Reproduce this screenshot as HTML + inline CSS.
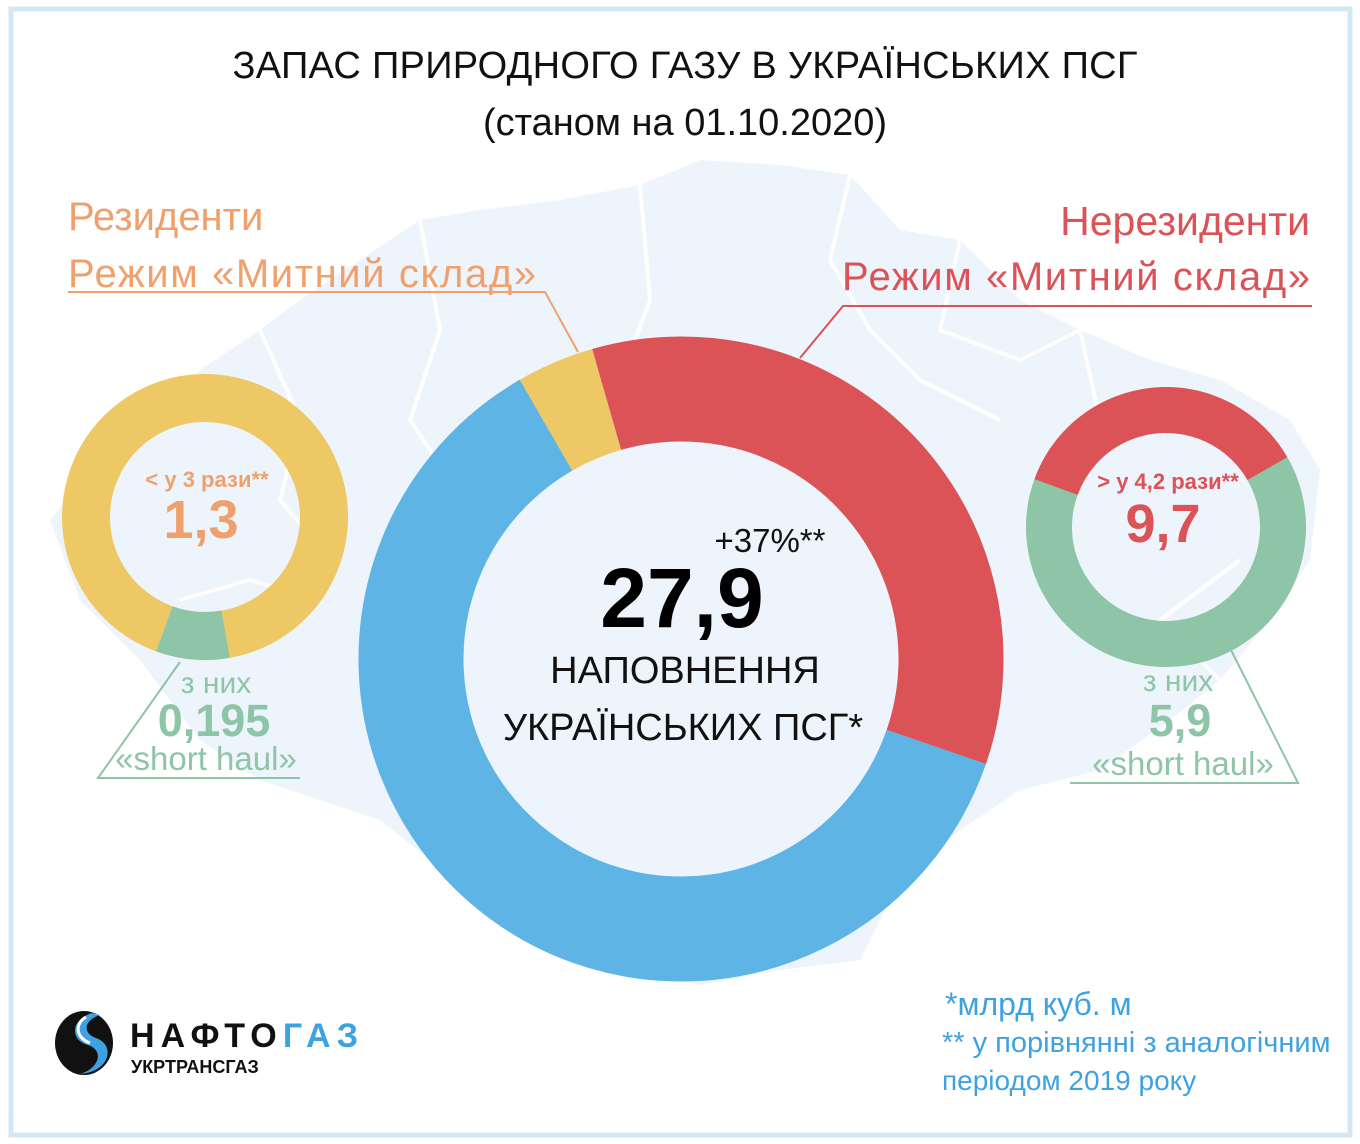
<!DOCTYPE html>
<html><head><meta charset="utf-8"><style>
body{margin:0;width:1360px;height:1144px;background:#fff;overflow:hidden}
svg{display:block}
text{font-family:"Liberation Sans","DejaVu Sans",sans-serif}
</style></head><body>
<svg width="1360" height="1144" viewBox="0 0 1360 1144">
<rect x="11" y="9" width="1339" height="1126" fill="#fff" stroke="#d2e8f6" stroke-width="5"/>
<path d="M50 520 L90 470 L150 430 L200 370 L260 330 L300 300 L360 260 L420 220 L480 210 L560 200 L640 185 L700 160 L780 165 L850 175 L900 230 L960 240 L1020 300 L1080 330 L1150 360 L1220 380 L1290 420 L1320 470 L1310 560 L1270 620 L1220 680 L1170 720 L1100 770 L1020 790 L960 830 L900 880 L860 960 L780 970 L700 985 L600 960 L520 900 L430 860 L380 820 L320 800 L260 780 L200 740 L140 660 L80 600 Z" fill="#edf4fb"/>
<g fill="none" stroke="#fff" stroke-width="4" opacity="0.9">
<path d="M260 330 L300 420 L280 500 L330 560"/><path d="M420 220 L440 330 L410 420 L450 480"/><path d="M640 185 L650 300 L620 380"/><path d="M850 175 L830 260 L870 330 L920 380 L1000 420"/><path d="M960 240 L940 330 L1020 360 L1080 330"/><path d="M1080 330 L1100 420 L1040 470"/><path d="M180 600 L250 580 L320 600"/><path d="M1220 680 L1160 620 L1240 560"/></g>
<g transform="translate(681,659)" fill="none" stroke-width="105">
<circle r="270" stroke="#5eb4e4" stroke-dasharray="1041.4 2000" transform="rotate(19)"/>
<circle r="270" stroke="#db5257" stroke-dasharray="589 2000" transform="rotate(-106)"/>
<circle r="270" stroke="#efc866" stroke-dasharray="66 2000" transform="rotate(-120)"/>
</g>
<g transform="translate(205,517)" fill="none" stroke-width="48">
<circle r="119" stroke="#efc866" stroke-dasharray="685.4 2000" transform="rotate(110)"/>
<circle r="119" stroke="#8dc5a6" stroke-dasharray="62.3 2000" transform="rotate(80)"/>
</g>
<g transform="translate(1166,527)" fill="none" stroke-width="46">
<circle r="117" stroke="#8dc5a6" stroke-dasharray="469.7 2000" transform="rotate(-30)"/>
<circle r="117" stroke="#db5257" stroke-dasharray="265.5 2000" transform="rotate(-160)"/>
</g>
<polyline points="68,292 545,292 578,352" fill="none" stroke="#f0a06c" stroke-width="2"/>
<polyline points="1312,306 843,306 800,358" fill="none" stroke="#db5257" stroke-width="2"/>
<polyline points="180,662 98,778 300,778" fill="none" stroke="#8dc5a6" stroke-width="2"/>
<polyline points="1230,648 1298,783 1070,783" fill="none" stroke="#8dc5a6" stroke-width="2"/>
<text x="685" y="78" font-size="38" text-anchor="middle" fill="#111" textLength="905">ЗАПАС ПРИРОДНОГО ГАЗУ В УКРАЇНСЬКИХ ПСГ</text>
<text x="685" y="135" font-size="38" text-anchor="middle" fill="#111">(станом на 01.10.2020)</text>
<text x="68" y="230" font-size="40" fill="#f0a06c">Резиденти</text>
<text x="68" y="287" font-size="40" fill="#f0a06c" textLength="468">Режим «Митний склад»</text>
<text x="1310" y="235" font-size="41" fill="#db5257" text-anchor="end">Нерезиденти</text>
<text x="1310" y="290" font-size="40" fill="#db5257" text-anchor="end" textLength="468">Режим «Митний склад»</text>
<text x="207" y="487" font-size="22" font-weight="bold" fill="#f0a06c" text-anchor="middle">&lt; у 3 рази**</text>
<text x="201" y="538" font-size="54" font-weight="bold" fill="#f0a06c" text-anchor="middle">1,3</text>
<text x="216" y="693" font-size="30" fill="#8dc5a6" text-anchor="middle">з них</text>
<text x="214" y="736" font-size="45" font-weight="bold" fill="#8dc5a6" text-anchor="middle">0,195</text>
<text x="206" y="770" font-size="33" fill="#8dc5a6" text-anchor="middle">«short haul»</text>
<text x="1168" y="489" font-size="22" font-weight="bold" fill="#db5257" text-anchor="middle">&gt; у 4,2 рази**</text>
<text x="1163" y="542" font-size="54" font-weight="bold" fill="#db5257" text-anchor="middle">9,7</text>
<text x="1178" y="691" font-size="30" fill="#8dc5a6" text-anchor="middle">з них</text>
<text x="1180" y="736" font-size="45" font-weight="bold" fill="#8dc5a6" text-anchor="middle">5,9</text>
<text x="1183" y="775" font-size="33" fill="#8dc5a6" text-anchor="middle">«short haul»</text>
<text x="770" y="552" font-size="33" fill="#111" text-anchor="middle">+37%**</text>
<text x="682" y="627" font-size="84" font-weight="bold" fill="#000" text-anchor="middle">27,9</text>
<text x="685" y="683" font-size="38" fill="#111" text-anchor="middle">НАПОВНЕННЯ</text>
<text x="683" y="740" font-size="38" fill="#111" text-anchor="middle">УКРАЇНСЬКИХ ПСГ*</text>
<text x="945" y="1015" font-size="32" fill="#3ea2e2">*млрд куб. м</text>
<text x="942" y="1052" font-size="29" fill="#3ea2e2">** у порівнянні з аналогічним</text>
<text x="942" y="1090" font-size="28" fill="#3ea2e2">періодом 2019 року</text>
<ellipse cx="84" cy="1043" rx="29" ry="32" fill="#111"/>
<path d="M92 1013 C70 1020 70 1040 88 1045 C104 1050 100 1068 80 1074 C110 1072 116 1045 96 1038 C82 1033 84 1020 100 1015 Z" fill="#3ea2e2"/>
<path d="M86 1017 C74 1024 76 1038 90 1043" fill="none" stroke="#fff" stroke-width="3"/>
<text x="130" y="1047" font-size="34" font-weight="bold" fill="#111" textLength="228">НАФТО<tspan fill="#3ea2e2">ГАЗ</tspan></text>
<text x="131" y="1073" font-size="18" font-weight="bold" fill="#111">УКРТРАНСГАЗ</text>
</svg>
</body></html>
